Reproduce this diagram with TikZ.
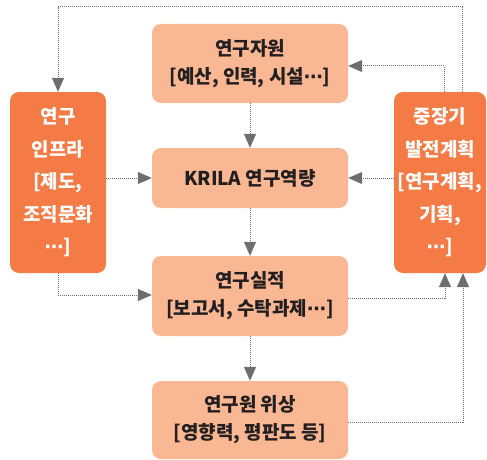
\documentclass[tikz,border=0pt]{standalone}
\usepackage{fontspec}
\setmainfont{Noto Sans CJK KR}
\newfontfamily\djv{DejaVu Sans}
\newcommand{\mydots}{{\djv\bfseries ⋯}}
\usetikzlibrary{arrows.meta}
\definecolor{lightbox}{HTML}{F9B793}
\definecolor{darkbox}{HTML}{F47B45}
\definecolor{lnc}{HTML}{6D6E71}
\definecolor{txt}{HTML}{231F20}
\begin{document}
\begin{tikzpicture}[x=1pt,y=-1pt,
  lbox/.style={fill=lightbox, rounded corners=9pt, minimum width=196pt, align=center, text=txt, inner sep=0pt,
    font=\bfseries\fontsize{19}{28}\selectfont},
  dbox/.style={fill=darkbox, rounded corners=9pt, align=center, text=white, inner sep=0pt,
    font=\bfseries\fontsize{19}{32.5}\selectfont},
  conn/.style={draw=lnc, line width=1pt, dash pattern=on 1pt off 1pt, -{Triangle[length=14pt,width=12pt]}}
]
\useasboundingbox (0,0) rectangle (487,460);
\node[lbox, minimum height=79pt] (b1) at (250,63.5) {연구자원\\{[}예산, 인력, 시설\mydots{]}};
\node[lbox, minimum height=60pt] (b2) at (250,178) {KRILA 연구역량};
\node[lbox, minimum height=80pt] (b3) at (250,296) {연구실적\\{[}보고서, 수탁과제\mydots{]}};
\node[lbox, minimum height=78pt] (b4) at (250,420) {연구원 위상\\{[}영향력, 평판도 등{]}};
\node[dbox, minimum width=96pt, minimum height=181pt] (L) at (58,182.5) {연구\\인프라\\{[}제도,\\조직문화\\\mydots{]}};
\node[dbox, minimum width=92pt, minimum height=181pt] (R) at (440,182.5) {중장기\\발전계획\\{[}연구계획,\\기획,\\\mydots{]}};
\draw[conn] (b1.south) -- (b2.north);
\draw[conn] (b2.south) -- (b3.north);
\draw[conn] (b3.south) -- (b4.north);
\draw[conn] (L.east |- b2.west) -- (b2.west);
\draw[conn] (R.west |- b2.east) -- (b2.east);
\coordinate (t1) at (462,7);
\coordinate (t2) at (444,66);
\coordinate (u1) at (445,298);
\coordinate (u2) at (463,422);
\coordinate (v) at (58,295);
\draw[conn] (R.north -| t1) -- (t1) -| (L.north);
\draw[conn] (R.north -| t2) -- (t2) -- (t2 -| b1.east);
\draw[conn] (b3.east |- u1) -- (u1) -- (u1 |- R.south);
\draw[conn] (b4.east |- u2) -- (u2) -- (u2 |- R.south);
\draw[conn] (L.south) -- (v) -- (v -| b3.west);
\end{tikzpicture}
\end{document}
